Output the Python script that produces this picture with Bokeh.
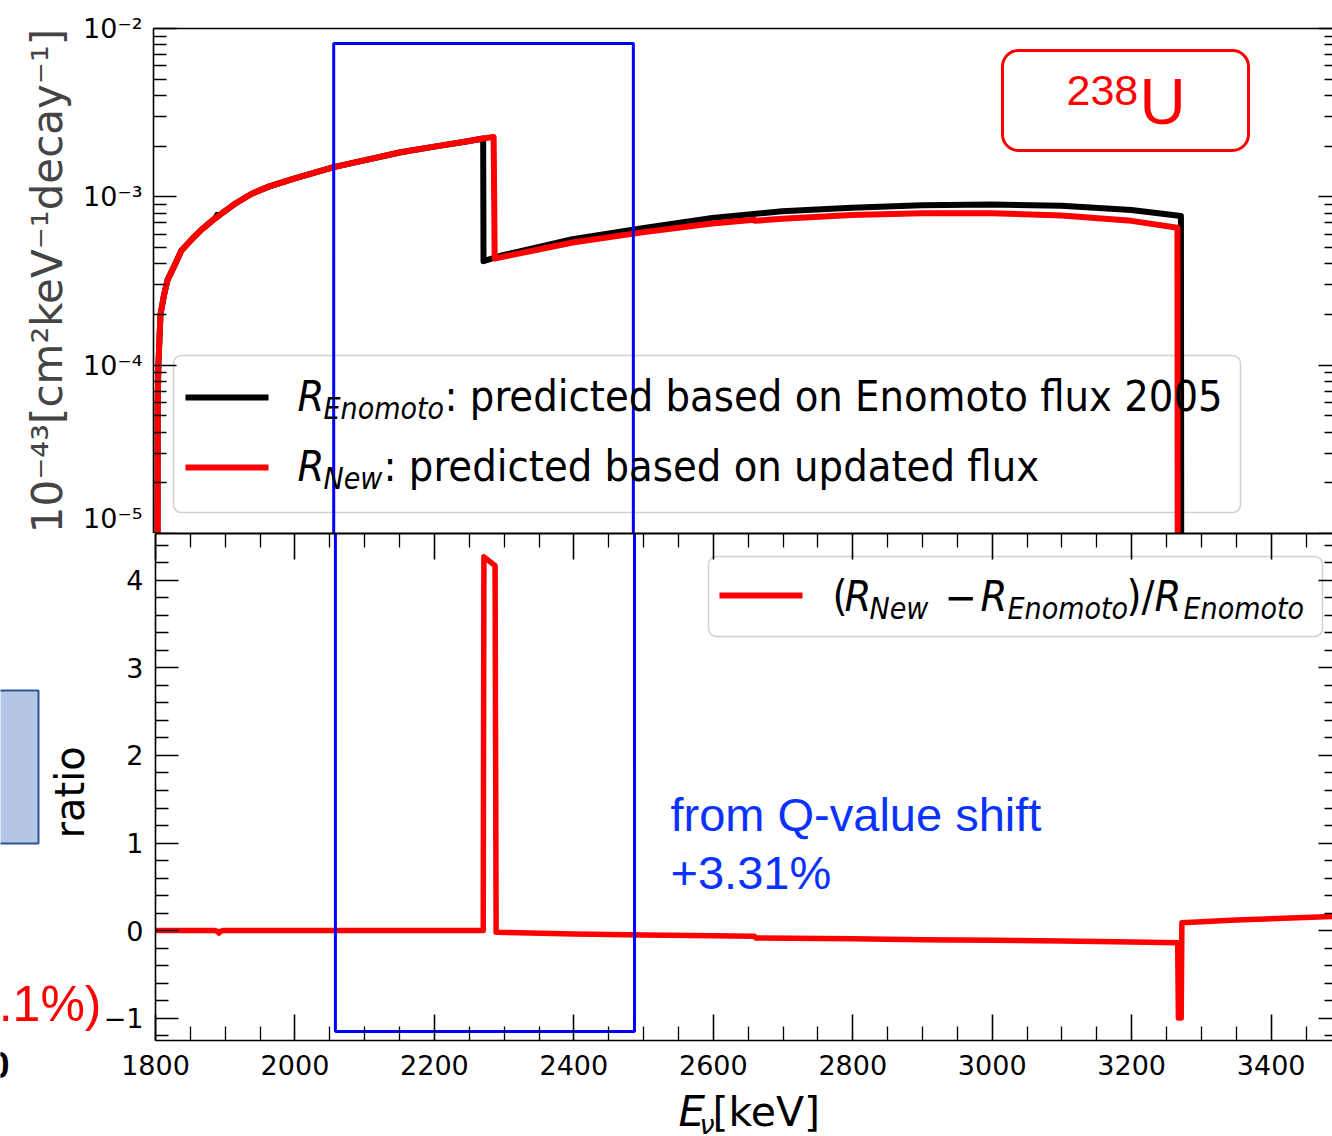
import math
from bokeh.plotting import figure
from bokeh.models import Range1d, LogAxis, LinearAxis, FixedTicker, Label, BoxAnnotation
from bokeh.layouts import column, row
from bokeh.embed import file_html
from bokeh.resources import INLINE

# ---------------- data ----------------
e_enomoto = [1805.0, 1806, 1807, 1810, 1815, 1820, 1830, 1840, 1855, 1870, 1889, 1891, 1893,
             1915, 1940, 1965, 2000, 2058, 2100, 2154, 2200, 2250, 2272,
             2272.5, 2300, 2400, 2500, 2600, 2700, 2800, 2900, 3000, 3100, 3200, 3271, 3272]
r_enomoto = [1e-8, 6e-5, 1.0e-4, 2.0e-4, 2.6e-4, 3.2e-4, 3.9e-4, 4.8e-4, 5.6e-4, 6.45e-4, 7.5e-4, 7.8e-4, 7.7e-4,
             9.0e-4, 1.04e-3, 1.15e-3, 1.28e-3, 1.5e-3, 1.64e-3, 1.84e-3, 1.98e-3, 2.14e-3, 2.22e-3,
             4.15e-4, 4.5e-4, 5.6e-4, 6.5e-4, 7.5e-4, 8.2e-4, 8.6e-4, 8.9e-4, 9.0e-4, 8.85e-4, 8.35e-4, 7.7e-4, 1e-8]

e_new = [1805.0, 1806, 1807, 1810, 1815, 1820, 1830, 1840, 1855, 1870, 1889, 1891, 1893,
         1915, 1940, 1965, 2000, 2058, 2100, 2154, 2200, 2250, 2272, 2287,
         2288.5, 2300, 2400, 2500, 2600, 2660, 2661, 2700, 2800, 2900, 3000, 3100, 3200, 3266, 3267]
r_new = [1e-8, 6e-5, 1.0e-4, 2.0e-4, 2.6e-4, 3.2e-4, 3.9e-4, 4.8e-4, 5.6e-4, 6.45e-4, 7.5e-4, 7.55e-4, 7.7e-4,
         9.0e-4, 1.04e-3, 1.15e-3, 1.28e-3, 1.5e-3, 1.64e-3, 1.84e-3, 1.98e-3, 2.14e-3, 2.22e-3, 2.27e-3,
         4.3e-4, 4.4e-4, 5.35e-4, 6.15e-4, 6.95e-4, 7.3e-4, 7.2e-4, 7.4e-4, 7.8e-4, 8.0e-4, 8.0e-4, 7.75e-4, 7.2e-4, 6.55e-4, 1e-8]

e_ratio = [1800, 1885, 1889, 1891, 1893, 1897, 2000, 2100, 2200, 2270, 2271, 2287, 2288.5,
           2400, 2500, 2600, 2659, 2661, 2800, 2900, 3000, 3100, 3200, 3266, 3267, 3271, 3272, 3350, 3488]
ratio = [0.0, 0.0, -0.01, -0.03, -0.01, 0.0, 0.0, 0.0, 0.0, 0.0, 4.27, 4.17, -0.02,
         -0.04, -0.05, -0.06, -0.065, -0.085, -0.095, -0.105, -0.11, -0.12, -0.13, -0.14, -1.0, -1.0, 0.09, 0.12, 0.16]

x_major = [1800, 2000, 2200, 2400, 2600, 2800, 3000, 3200, 3400]
x_minor = [e for e in range(1800, 3500, 50) if e % 200 != 0]
y_top_major = [1e-5, 1e-4, 1e-3, 1e-2]
y_top_labels = ["10\u207b\u2075", "10\u207b\u2074", "10\u207b\u00b3", "10\u207b\u00b2"]
y_top_minor = [k * 10.0 ** p for p in (-5, -4, -3) for k in range(2, 10)]
y_bot_major = [-1, 0, 1, 2, 3, 4]
y_bot_labels = ["\u22121", "0", "1", "2", "3", "4"]
y_bot_minor = [round(-1.2 + 0.2 * i, 1) for i in range(29) if abs(round(-1.2 + 0.2 * i, 1) % 1) > 1e-6]

# annotation overlay (blue rectangle added on the slide)
blue_box_e = (2058, 2487)
blue_box_top_val = 8.15e-3
blue_box_bottom_ratio = -1.154

# ---------------- layout constants (page pixels) ----------------
W = 1332
FL = 153              # frame left
STRIP_W = 100         # left strip with slide fragments
TOP_H = 533
TOP_FT = 28
BOT_H = 555           # page y 533 .. 1088
BOT_FB = 48
FOOT_H = 48           # page y 1088 .. 1136
TOP_FRAME_BOTTOM = 533
BOT_FRAME_BOTTOM = 1040
PAGE_H = 1136
TICK_FONT = "DejaVu Sans"
LEG_FONT = "DejaVu Sans Condensed"
BASE_K = 0.375        # baseline correction for labels

xr = Range1d(1800, 3488)


def style_axis(ax, major_in, minor_in, labels=True, line=True, lw=1.6):
    ax.major_tick_in = major_in
    ax.major_tick_out = 0
    ax.minor_tick_in = minor_in
    ax.minor_tick_out = 0
    ax.major_tick_line_color = "black"
    ax.minor_tick_line_color = "black"
    ax.major_tick_line_width = 1.6
    ax.minor_tick_line_width = 1.3
    ax.axis_line_width = lw
    ax.axis_line_color = "black" if line else None
    ax.major_label_text_font = TICK_FONT
    ax.major_label_text_font_size = "27px"
    ax.major_label_text_color = "black"
    if not labels:
        ax.major_label_text_font_size = "0px"
        ax.major_label_standoff = 0
        ax.major_label_text_color = None


def label(fig, text, sx, sy, size, font=LEG_FONT, style="normal", color="black",
          align="left", angle=0.0):
    if angle == 0.0:
        sy = sy + BASE_K * size
    else:
        sx = sx - BASE_K * size
    fig.add_layout(Label(x=sx, y=sy, x_units="screen", y_units="screen", text=text,
                         text_font=font, text_font_size=f"{size}px", text_font_style=style,
                         text_color=color, text_align=align, text_baseline="alphabetic",
                         angle=angle))


def box(fig, left, right, bottom, top, fill_color=None, fill_alpha=1.0, line_color=None,
        line_width=1, border_radius=0, level="annotation"):
    fig.add_layout(BoxAnnotation(left=left, right=right, bottom=bottom, top=top,
                                 left_units="screen", right_units="screen",
                                 bottom_units="screen", top_units="screen",
                                 fill_color=fill_color, fill_alpha=fill_alpha,
                                 line_color=line_color, line_alpha=1.0, line_width=line_width,
                                 border_radius=border_radius, level=level))


def blank_fig(w, h, left_border=0):
    f = figure(width=w, height=h, x_range=Range1d(0, w), y_range=Range1d(0, h),
               output_backend="svg", toolbar_location=None, x_axis_location=None,
               y_axis_location=None, min_border=0, min_border_left=left_border, min_border_right=0,
               min_border_top=0, min_border_bottom=0)
    f.outline_line_color = None
    for g in f.grid:
        g.visible = False
    f.background_fill_color = "white"
    f.border_fill_color = "white"
    return f


# ---------------- top panel ----------------
top = figure(width=W, height=TOP_H, x_range=xr, y_range=Range1d(1e-5, 1e-2), y_axis_type="log",
             output_backend="svg", toolbar_location=None, x_axis_location=None, y_axis_location=None,
             min_border_left=FL, min_border_right=0, min_border_top=TOP_FT, min_border_bottom=0)
top.outline_line_color = None
top.xgrid.visible = False
top.ygrid.visible = False
top.background_fill_color = "white"
top.border_fill_color = "white"

ly = LogAxis(ticker=FixedTicker(ticks=y_top_major, minor_ticks=y_top_minor),
             major_label_overrides=dict(zip(y_top_major, y_top_labels)))
style_axis(ly, 23, 13)
ly.major_label_standoff = 11
ly.axis_label = "10\u207b\u2074\u00b3[cm\u00b2keV\u207b\u00b9decay\u207b\u00b9]"
ly.axis_label_text_font = TICK_FONT
ly.axis_label_text_font_size = "42px"
ly.axis_label_text_font_style = "normal"
ly.axis_label_standoff = 8
top.add_layout(ly, "left")

ry = LogAxis(ticker=FixedTicker(ticks=y_top_major, minor_ticks=y_top_minor))
style_axis(ry, 14, 8, labels=False, line=False)
top.add_layout(ry, "right")

for loc, lw in (("above", 1.5), ("below", 2.0)):
    ax = LinearAxis(ticker=FixedTicker(ticks=[]))
    style_axis(ax, 0, 0, labels=False, line=True, lw=lw)
    top.add_layout(ax, loc)

top.line(e_enomoto, r_enomoto, line_color="black", line_width=6, line_join="round")
top.line(e_new, r_new, line_color="#ff0000", line_width=6, line_join="round")
top.quad(left=[blue_box_e[0]], right=[blue_box_e[1]], top=[blue_box_top_val], bottom=[1e-8],
         fill_color=None, line_color="#0000ff", line_width=3)


def tx(px):
    return px - FL


def ty(py):
    return TOP_FRAME_BOTTOM - py


# legend (top)
box(top, tx(173), tx(1240), ty(512), ty(355), fill_color="white", fill_alpha=0.8,
    line_color="#d0d0d0", line_width=1.5, border_radius=8, level="underlay")
box(top, tx(185), tx(268), ty(400), ty(394), fill_color="black")
box(top, tx(185), tx(268), ty(470), ty(464), fill_color="#ff0000")
label(top, "R", tx(297), ty(412), 43, style="italic")
label(top, "Enomoto", tx(323), ty(419), 30, style="italic")
label(top, ": predicted based on Enomoto flux 2005", tx(444), ty(412), 43)
label(top, "R", tx(297), ty(482), 43, style="italic")
label(top, "New", tx(323), ty(489), 30, style="italic")
label(top, ": predicted based on updated flux", tx(383), ty(482), 43)

# 238U box
box(top, tx(1002), tx(1248), ty(150), ty(50), fill_color=None, line_color="#ff0000",
    line_width=3, border_radius=16)
label(top, "238", tx(1066), ty(106), 43, font="Liberation Sans", color="#ff0000")
label(top, "U", tx(1139), ty(125), 64, font="Liberation Sans", color="#ff0000")

# ---------------- bottom panel ----------------
bot = figure(width=W - STRIP_W, height=BOT_H, x_range=xr, y_range=Range1d(-1.257, 4.537),
             output_backend="svg", toolbar_location=None, x_axis_location=None, y_axis_location=None,
             min_border_left=FL - STRIP_W, min_border_right=0, min_border_top=0, min_border_bottom=BOT_FB)
bot.outline_line_color = None
bot.xgrid.visible = False
bot.ygrid.visible = False
bot.background_fill_color = "white"
bot.border_fill_color = "white"

bl = LinearAxis(ticker=FixedTicker(ticks=y_bot_major, minor_ticks=y_bot_minor),
                major_label_overrides=dict(zip(y_bot_major, y_bot_labels)))
style_axis(bl, 23, 13)
bl.major_label_standoff = 12
bot.add_layout(bl, "left")

br = LinearAxis(ticker=FixedTicker(ticks=y_bot_major, minor_ticks=y_bot_minor))
style_axis(br, 14, 8, labels=False, line=False)
bot.add_layout(br, "right")

bb = LinearAxis(ticker=FixedTicker(ticks=x_major, minor_ticks=x_minor))
style_axis(bb, 26, 14)
bb.major_label_standoff = 14
bot.add_layout(bb, "below")

ba = LinearAxis(ticker=FixedTicker(ticks=x_major, minor_ticks=x_minor))
style_axis(ba, 26, 14, labels=False, line=True, lw=2.0)
bot.add_layout(ba, "above")

bot.line(e_ratio, ratio, line_color="#ff0000", line_width=5.5, line_join="round")
bot.quad(left=[blue_box_e[0]], right=[blue_box_e[1]], top=[20], bottom=[blue_box_bottom_ratio],
         fill_color=None, line_color="#0000ff", line_width=3)


def by(py):
    return BOT_FRAME_BOTTOM - py


# legend (bottom)
box(bot, tx(706), tx(1320), by(636), by(556), fill_color="white", fill_alpha=0.8,
    line_color="#d0d0d0", line_width=1.5, border_radius=8, level="underlay")
box(bot, tx(717), tx(800), by(598), by(592), fill_color="#ff0000")
label(bot, "(", tx(830), by(612), 43)
label(bot, "R", tx(842), by(612), 43, style="italic")
label(bot, "New", tx(867), by(619), 30, style="italic")
label(bot, "\u2212", tx(942), by(612), 43)
label(bot, "R", tx(978), by(612), 43, style="italic")
label(bot, "Enomoto", tx(1005), by(619), 30, style="italic")
label(bot, ")/", tx(1124), by(612), 43)
label(bot, "R", tx(1152), by(612), 43, style="italic")
label(bot, "Enomoto", tx(1181), by(619), 30, style="italic")

# slide annotation text in the ratio panel
label(bot, "from Q-value shift", tx(668), by(832), 47, font="Liberation Sans", color="#0a32ff")
label(bot, "+3.31%", tx(668), by(890), 47, font="Liberation Sans", color="#0a32ff")

# ---------------- footer (x axis title) ----------------
foot = blank_fig(W - STRIP_W, FOOT_H, left_border=FL - STRIP_W)


def fy(py):
    return PAGE_H - py


label(foot, "E", tx(676), fy(1127), 42, font=TICK_FONT, style="italic")
label(foot, "\u03bd", tx(697), fy(1134), 27, font=TICK_FONT, style="italic")
label(foot, "[keV]", tx(710), fy(1127), 41, font=TICK_FONT)

# ---------------- left strip (ratio title + slide fragments), page y 533 .. 1136 ----------------
strip = blank_fig(STRIP_W, BOT_H + FOOT_H)


def sy_(py):
    return PAGE_H - py


box(strip, -20, 38, sy_(843), sy_(690), fill_color="#b4c7e7", line_color="#2f5597", line_width=2)
label(strip, "ratio", 84, sy_(838), 40, font=TICK_FONT, align="left", angle=math.pi / 2)
label(strip, "(+0.1%)", 101, sy_(1022), 50, font="Liberation Sans", color="#ff0000", align="right")
label(strip, "0", 9, sy_(1078), 36, font="Liberation Sans", style="bold", align="right")

layout = column(top, row(strip, column(bot, foot, spacing=0), spacing=0), spacing=0)
open("out.html", "w").write(file_html(layout, INLINE))
